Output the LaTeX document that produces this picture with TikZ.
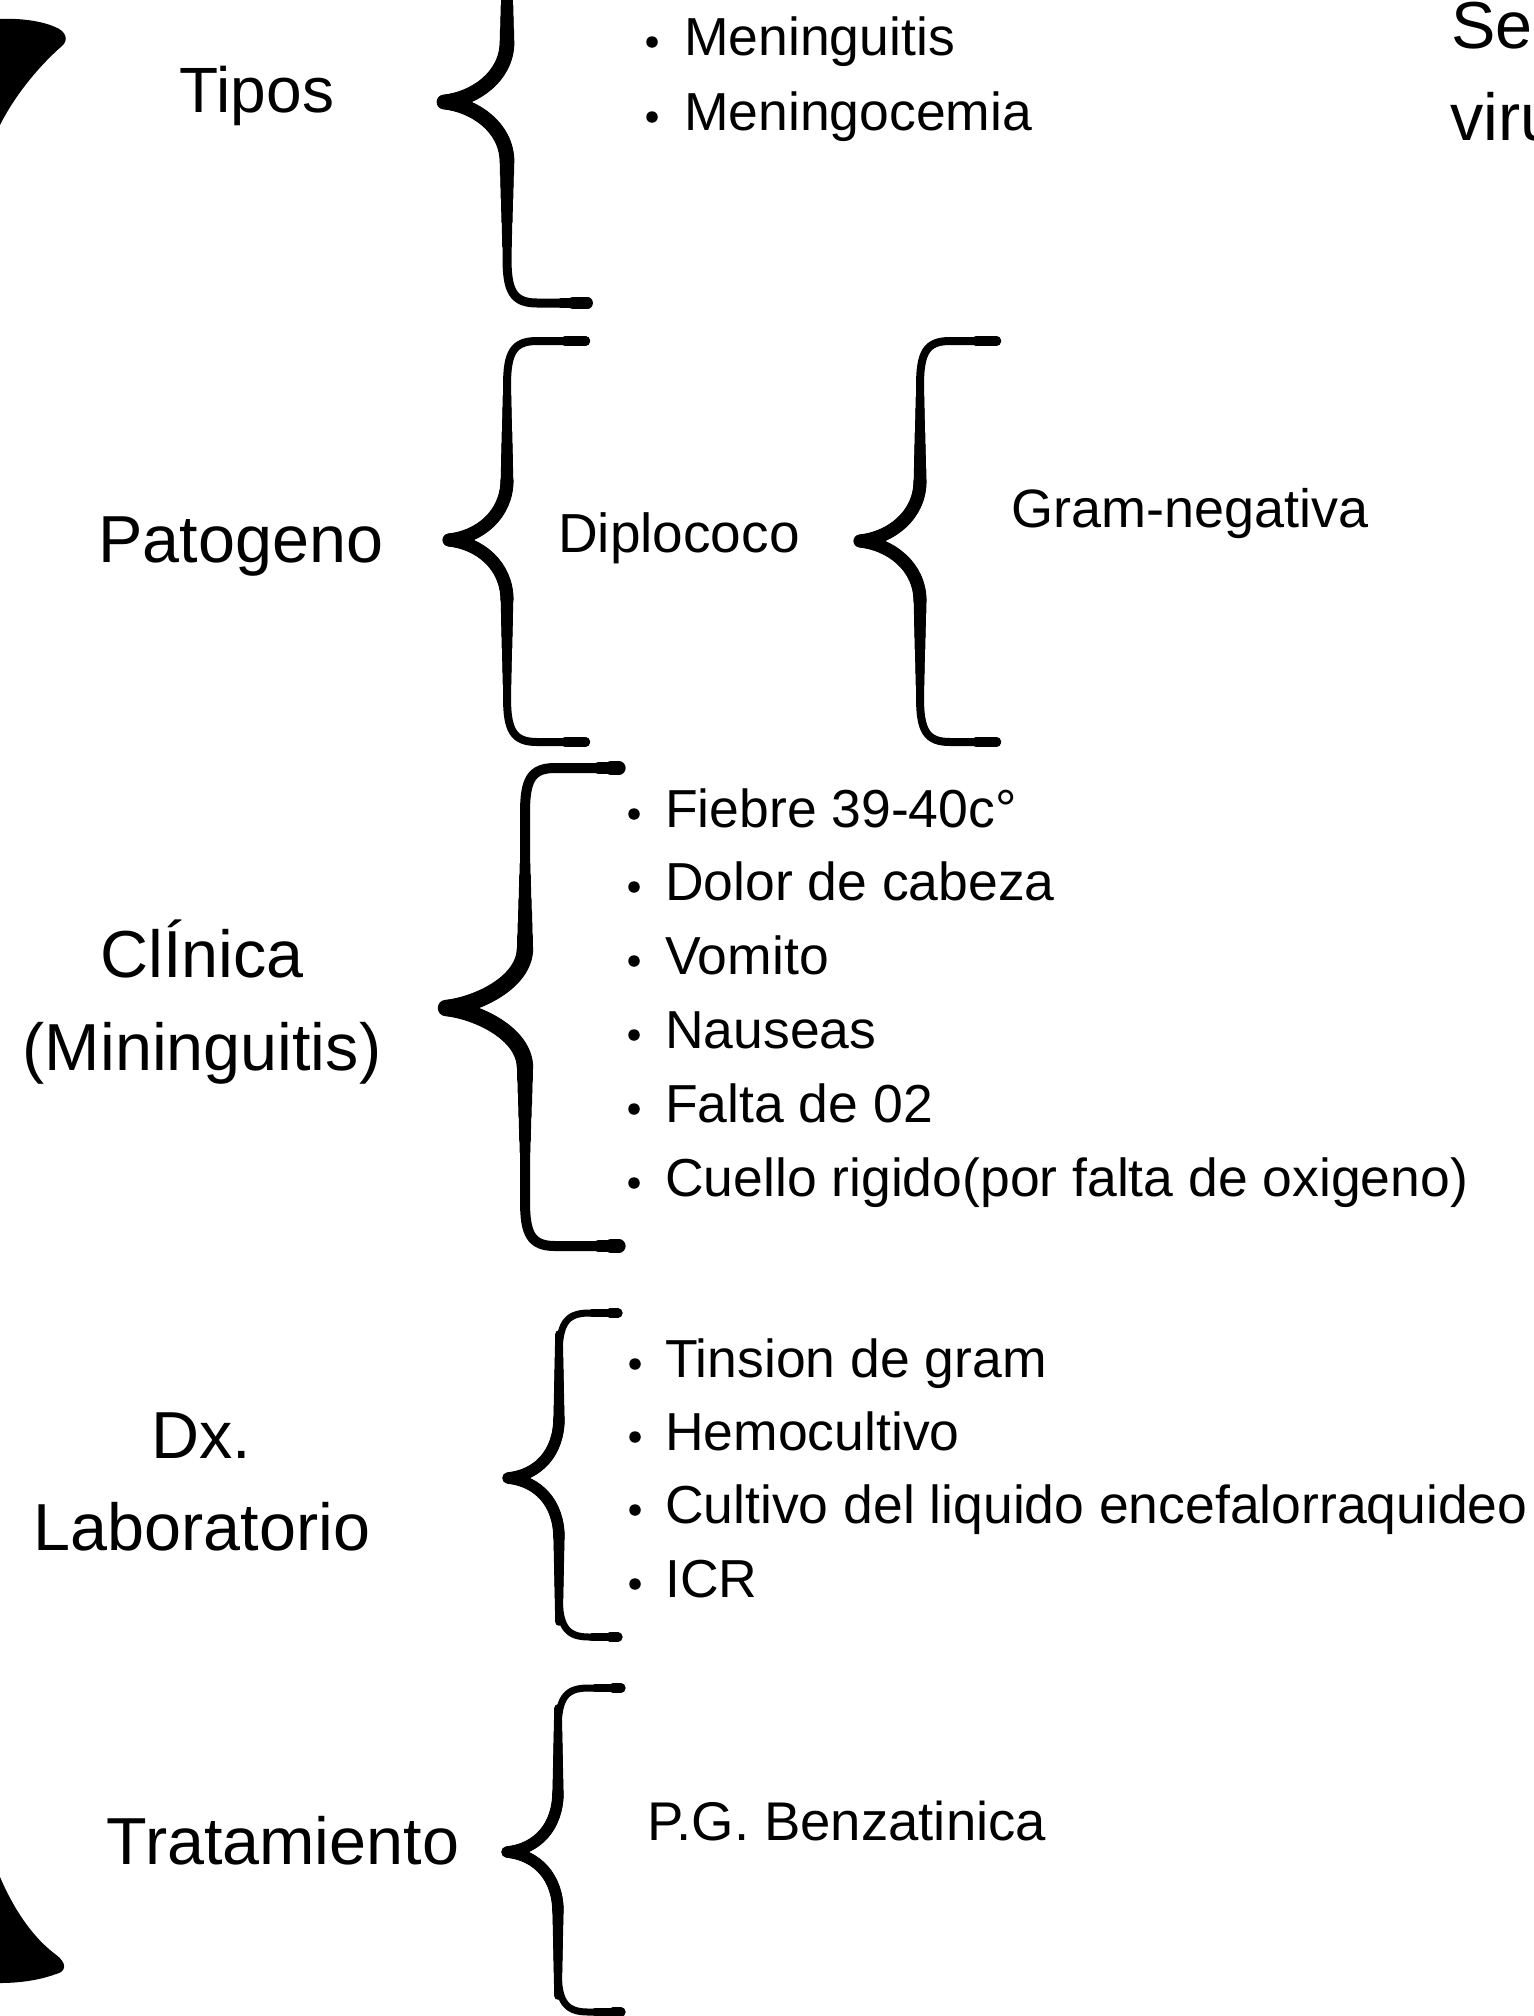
\documentclass[tikz,border=0pt]{standalone}
\usepackage{fontspec}
\setmainfont{Liberation Sans}
% brace: xe, ytop, xarm, xtip, ymid, ybottom, width
\newcommand{\mybrace}[7]{%
 \begin{scope}[line cap=round,line join=round]
 \draw[line width=#7] (#1,#2) -- ({#3+30},#2) .. controls ({#3+6},#2) and (#3,{#2+12}) .. (#3,{#2+45})
   -- (#3,{#5-70}) .. controls (#3,{#5-25}) and ({#4+30},{#5-3}) .. (#4,#5)
   .. controls ({#4+30},{#5+3}) and (#3,{#5+25}) .. (#3,{#5+70})
   -- (#3,{#6-45}) .. controls (#3,{#6-12}) and ({#3+6},#6) .. ({#3+30},#6) -- (#1,#6);
 \foreach \k in {1,...,8}{%
   \draw[line width=#7*(1+0.08*\k)] (#3,{#5-60-(8-\k)*12}) -- (#3,{#5-60}) .. controls (#3,{#5-25}) and ({#4+30},{#5-3}) .. (#4,#5)
     .. controls ({#4+30},{#5+3}) and (#3,{#5+25}) .. (#3,{#5+60}) -- (#3,{#5+60+(8-\k)*12});
 }
 \foreach \k in {1,...,4}{%
   \draw[line width=#7*(1+0.08*\k)] ({#1-8-(4-\k)*6},#2) -- (#1,#2);
   \draw[line width=#7*(1+0.08*\k)] ({#1-8-(4-\k)*6},#6) -- (#1,#6);
 }
 \end{scope}}
\begin{document}
\begin{tikzpicture}[x=1pt,y=-1pt,
  lbl/.style={font=\fontsize{66.5}{79}\selectfont, inner sep=0pt, anchor=base},
  item/.style={font=\fontsize{53.5}{63}\selectfont, inner sep=0pt, anchor=base west},
  small/.style={font=\fontsize{54}{63}\selectfont, inner sep=0pt, anchor=base west},
  dot/.style={fill=black, circle, inner sep=0pt, minimum size=11.5pt}]
\useasboundingbox (0,0) rectangle (1534,2016);
\fill[white] (0,0) rectangle (1534,2016);
\clip (0,0) rectangle (1534,2016);

% big outer brace ends
\fill[black] (0,19) .. controls (20,18) and (42,21) .. (55,27) .. controls (66,31) and (69,40) .. (62,46)
  .. controls (40,65) and (15,95) .. (0,125) -- cycle;
\fill[black] (0,1877) .. controls (12,1905) and (30,1935) .. (55,1954) .. controls (68,1963) and (66,1972) .. (56,1974)
  .. controls (40,1980) and (20,1983) .. (0,1983) -- cycle;

% braces
\mybrace{587}{-103}{507}{444}{102}{303}{9}
\mybrace{585}{341}{507}{449}{540}{742}{8}
\mybrace{996}{341}{920}{860}{541}{742}{8}
\mybrace{619}{768}{525}{446}{1008}{1246}{10}
\mybrace{618}{1313}{559}{508}{1478}{1637}{7}
\mybrace{621}{1688}{558}{507}{1852}{2012}{7}

% Tipos
\node[lbl, font=\fontsize{64}{77}\selectfont] (tipos) at (257,112) {Tipos};
\node[dot] (b1) at (652,42) {};
\node[dot] (b2) at (652,117) {};
\node[item] (t1) at (684,55) {Meninguitis};
\node[item] (t2) at (684,130) {Meningocemia};
\node[lbl, anchor=base west] (se) at (1451,48) {Se};
\node[lbl, anchor=base west] (viru) at (1450,140) {viru};

% Patogeno
\node[lbl] (pat) at (241,562) {Patogeno};
\node[small, font=\fontsize{55}{63}\selectfont] (dip) at (558,552) {Diplococo};
\node[small] (gram) at (1011,527) {Gram-negativa};

% Clinica
\node[lbl] (cli1) at (202,977) {ClÍnica};
\node[lbl] (cli2) at (202,1070) {(Mininguitis)};
\node[dot] (c1) at (634,814) {};
\node[dot] (c2) at (634,887) {};
\node[dot] (c3) at (634,961) {};
\node[dot] (c4) at (634,1035) {};
\node[dot] (c5) at (634,1109) {};
\node[dot] (c6) at (634,1183) {};
\node[item] (s1) at (665,827) {Fiebre 39-40c°};
\node[item] (s2) at (665,900) {Dolor de cabeza};
\node[item] (s3) at (665,974) {Vomito};
\node[item] (s4) at (665,1048) {Nauseas};
\node[item] (s5) at (665,1122) {Falta de 02};
\node[item] (s6) at (665,1196) {Cuello rigido(por falta de oxigeno)};

% Dx Laboratorio
\node[lbl] (dx1) at (201,1458) {Dx.};
\node[lbl] (dx2) at (202,1550) {Laboratorio};
\node[dot] (d1) at (635,1364) {};
\node[dot] (d2) at (635,1437) {};
\node[dot] (d3) at (635,1510) {};
\node[dot] (d4) at (635,1584) {};
\node[item] (l1) at (665,1377) {Tinsion de gram};
\node[item] (l2) at (665,1450) {Hemocultivo};
\node[item] (l3) at (665,1523) {Cultivo del liquido encefalorraquideo};
\node[item] (l4) at (665,1597) {ICR};

% Tratamiento
\node[lbl] (trat) at (283,1864) {Tratamiento};
\node[small, font=\fontsize{54.5}{63}\selectfont] (pg) at (647,1840) {P.G. Benzatinica};
\end{tikzpicture}
\end{document}
